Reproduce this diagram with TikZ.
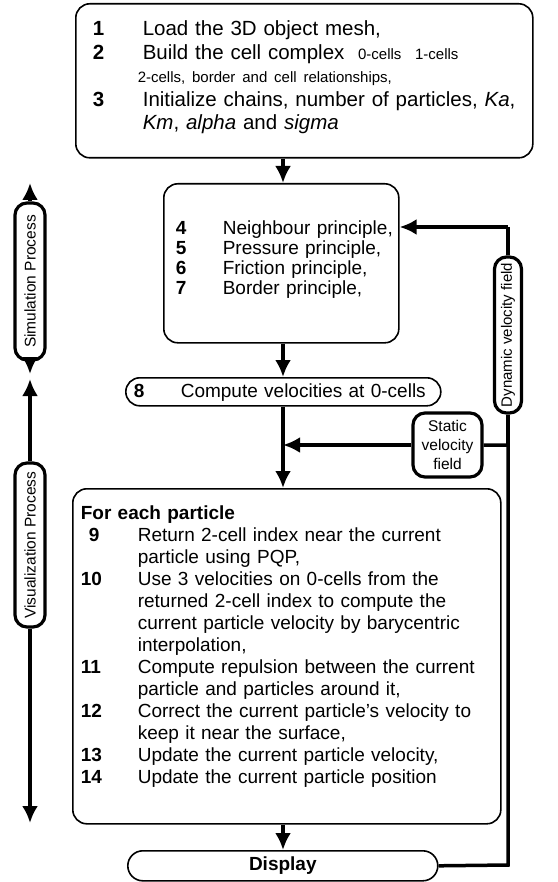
\documentclass[tikz,border=0pt]{standalone}
\usepackage{fontspec}
\setmainfont{Liberation Sans}
\usetikzlibrary{arrows.meta,calc}

\tikzset{
  stepbox/.style={draw, line width=1.6pt, rounded corners=14pt, fill=white, inner ysep=0pt, align=left},
  pill/.style={draw, line width=1.6pt, rounded corners=14pt, fill=white, inner sep=0pt},
  tag/.style={draw, line width=3.2pt, rounded corners=12pt, fill=white, align=center,
    font=\fontsize{15.5}{19}\selectfont, inner sep=0pt},
  flow/.style={line width=3.5pt, -{Latex[length=17pt,width=16pt]}},
  back/.style={line width=3.5pt},
}
\newcommand{\smalltxt}{\fontsize{15}{17}\selectfont}

\begin{document}
\begin{tikzpicture}[x=1pt,y=-1pt,font=\fontsize{19}{22}\selectfont]
\useasboundingbox (0,0) rectangle (557,882);
\coordinate (spine) at (283,0);

% Simulation steps
\node[stepbox, anchor=north west, inner xsep=17pt, text width=423pt,
      text height=32pt, text depth=122pt, font=\fontsize{20.5}{23.5}\selectfont] (init) at (75,3) {%
\begin{tabular}[t]{@{}p{50pt}@{}l@{}}
\textbf{1} & Load the 3D object mesh,\\
\textbf{2} & Build the cell complex \ {\smalltxt 0-cells\ \ 1-cells}\\
 & \hspace*{-5pt}{\smalltxt 2-cells, border and cell relationships,}\\
\textbf{3} & Initialize chains, number of particles, \textit{Ka},\\
 & \textit{Km}, \textit{alpha} and \textit{sigma}
\end{tabular}};

\node[stepbox, anchor=north west, inner xsep=12pt, text width=211pt,
      text height=51pt, text depth=108pt, font=\fontsize{19}{20}\selectfont] (rules) at (163,183) {%
\begin{tabular}[t]{@{}p{47pt}@{}l@{}}
\textbf{4} & Neighbour principle,\\
\textbf{5} & Pressure principle,\\
\textbf{6} & Friction principle,\\
\textbf{7} & Border principle,
\end{tabular}};

\node[pill, anchor=north west, inner xsep=8pt, text width=299pt,
      text height=20pt, text depth=8pt, align=left] (vel) at (125,377) {%
\makebox[47pt][l]{\textbf{8}}Compute velocities at 0-cells};

% Visualization steps
\node[stepbox, anchor=north west, inner xsep=8pt, text width=412pt,
      text height=31pt, text depth=304pt] (part) at (72,488) {%
\begin{tabular}[t]{@{}p{57pt}@{}l@{}}
\multicolumn{2}{@{}l}{\textbf{For each particle}}\\
\hspace*{8pt}\textbf{9} & Return 2-cell index near the current\\
 & particle using PQP,\\
\textbf{10} & Use 3 velocities on 0-cells from the\\
 & returned 2-cell index to compute the\\
 & current particle velocity by barycentric\\
 & interpolation,\\
\textbf{11} & Compute repulsion between the current\\
 & particle and particles around it,\\
\textbf{12} & Correct the current particle's velocity to\\
 & keep it near the surface,\\
\textbf{13} & Update the current particle velocity,\\
\textbf{14} & Update the current particle position
\end{tabular}};

\node[pill, anchor=north west, minimum width=310pt, minimum height=30pt, rounded corners=15pt,
      font=\fontsize{19}{21}\selectfont\bfseries] (disp) at (127,850) {Display};

% Velocity fields
\node[tag, minimum width=69pt, minimum height=64pt] (static) at (447.5,445) {Static\\velocity\\field};
\node[tag, rotate=90, minimum width=156pt, minimum height=27pt, font=\fontsize{15}{17}\selectfont] (dyn) at (508,335) {Dynamic velocity field};
\coordinate (corner) at (508,865);
\coordinate (turn) at (508,227);
\coordinate (join) at (508,445);

% Main flow
\draw[flow] (init.south -| spine) -- (rules.north -| spine);
\draw[flow] (rules.south -| spine) -- (vel.north -| spine);
\draw[flow] (vel.south -| spine) -- (part.north -| spine);
\draw[flow] (part.south -| spine) -- (disp.north -| spine);
\draw[flow] (static.west) -- (static.west -| spine);

% Feedback loop
\draw[back] (disp.east) -- (corner) -- (join) -- (static.east);
\draw[back] (join) -- (dyn.west);
\draw[back] (dyn.east) -- (turn);
\draw[flow] (turn) -- (turn -| rules.east);

% Process arrows
\coordinate (simtop) at (30,183);
\coordinate (simbot) at (30,374);
\coordinate (vistop) at (30,379);
\coordinate (visbot) at (30,823);
\node[tag, rotate=90, minimum width=157pt, minimum height=30pt] (sim) at (30,281.5) {Simulation Process};
\node[tag, rotate=90, minimum width=164pt, minimum height=30pt] (vis) at (30,545) {Visualization Process};
\draw[flow] (sim.east) -- (simtop);
\draw[flow] (sim.west) -- (simbot);
\draw[flow] (vis.east) -- (vistop);
\draw[flow] (vis.west) -- (visbot);
\end{tikzpicture}
\end{document}
